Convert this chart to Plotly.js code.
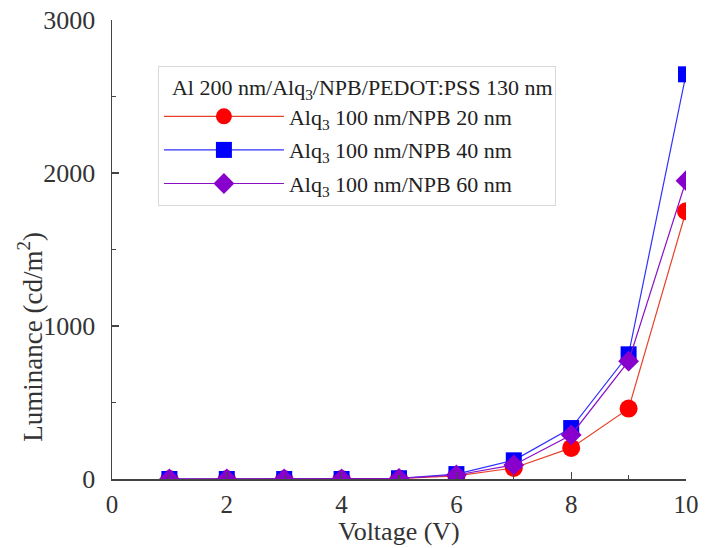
<!DOCTYPE html>
<html>
<head>
<meta charset="utf-8">
<script src="https://cdn.plot.ly/plotly-3.0.1.min.js"></script>
<style>html,body{margin:0;padding:0;background:#fff;}#chart{width:705px;height:548px;}</style>
</head>
<body>
<div id="chart"></div>
<script>
var voltage = [1, 2, 3, 4, 5, 6, 7, 8, 9, 10];
var lum20 = [0, 0, 0, 0, 3, 20, 72, 203, 460, 1750];
var lum40 = [0, 0, 0, 0, 5, 32, 122, 333, 815, 2645];
var lum60 = [0, 0, 0, 0, 4, 26, 92, 288, 770, 1950];
var seriesNames = [
  "Alq<sub>3</sub> 100 nm/NPB 20 nm",
  "Alq<sub>3</sub> 100 nm/NPB 40 nm",
  "Alq<sub>3</sub> 100 nm/NPB 60 nm"
];
var legendTitle = "\u00a0\u00a0Al 200 nm/Alq<sub>3</sub>/NPB/PEDOT:PSS 130 nm";
var xTitle = "Voltage (V)";
var yTitle = "Luminance (cd/m<sup>2</sup>)";
var xTicks = [0, 2, 4, 6, 8, 10];
var yTicks = [0, 1000, 2000, 3000];

var font = "Liberation Serif, serif";
var traces = [
  {x: voltage, y: lum20, name: seriesNames[0], legendgroup: "g1", mode: "lines+markers",
   line: {color: "#e8402a", width: 1.2},
   marker: {symbol: "circle", size: 18, color: "#ff0000"}},
  {x: voltage, y: lum40, name: seriesNames[1], legendgroup: "g2", mode: "lines+markers",
   line: {color: "#3030ff", width: 1.2},
   marker: {symbol: "square", size: 16, color: "#0000ff"}},
  {x: voltage, y: lum60, name: seriesNames[2], legendgroup: "g3", mode: "lines+markers",
   line: {color: "#8a10c8", width: 1.2},
   marker: {symbol: "diamond", size: 16, color: "#8800cc"}}
];
var layout = {
  width: 705, height: 548,
  margin: {l: 112, r: 19, t: 20, b: 69},
  paper_bgcolor: "#fff", plot_bgcolor: "#fff",
  font: {family: font, size: 24, color: "#333"},
  showlegend: true,
  legend: {
    x: 0.08, y: 0.90, xanchor: "left", yanchor: "top",
    bgcolor: "#fff", bordercolor: "#d8d8d8", borderwidth: 1,
    font: {family: font, size: 22, color: "#222"},
    title: {text: legendTitle, font: {family: font, size: 22, color: "#222"}},
    itemwidth: 120, tracegroupgap: 2
  },
  annotations: [{
    text: yTitle, textangle: -90, showarrow: false,
    xref: "paper", yref: "paper", x: -0.143, y: 0.31,
    xanchor: "center", yanchor: "middle",
    font: {family: font, size: 27, color: "#333"}
  }],
  xaxis: {
    range: [0, 10], tickvals: xTicks, ticktext: xTicks.map(String),
    ticks: "inside", ticklen: 7, tickcolor: "#444", tickwidth: 1.2,
    minor: {dtick: 1, ticks: "inside", ticklen: 4, tickcolor: "#444"},
    showgrid: false, zeroline: false, showline: true, linecolor: "#444", linewidth: 1.5,
    tickfont: {family: font, size: 25, color: "#333"},
    ticklabelstandoff: 2,
    title: {text: xTitle, font: {family: font, size: 26, color: "#333"}, standoff: 3}
  },
  yaxis: {
    range: [0, 3000], tickvals: yTicks, ticktext: yTicks.map(String),
    ticks: "inside", ticklen: 7, tickcolor: "#444", tickwidth: 1.2,
    minor: {dtick: 500, ticks: "inside", ticklen: 4, tickcolor: "#444"},
    showgrid: false, zeroline: false, showline: true, linecolor: "#444", linewidth: 1.5,
    tickfont: {family: font, size: 26, color: "#333"},
    ticklabelstandoff: 10
  }
};
Plotly.newPlot("chart", traces, layout, {displayModeBar: false, staticPlot: true});
</script>
</body>
</html>
